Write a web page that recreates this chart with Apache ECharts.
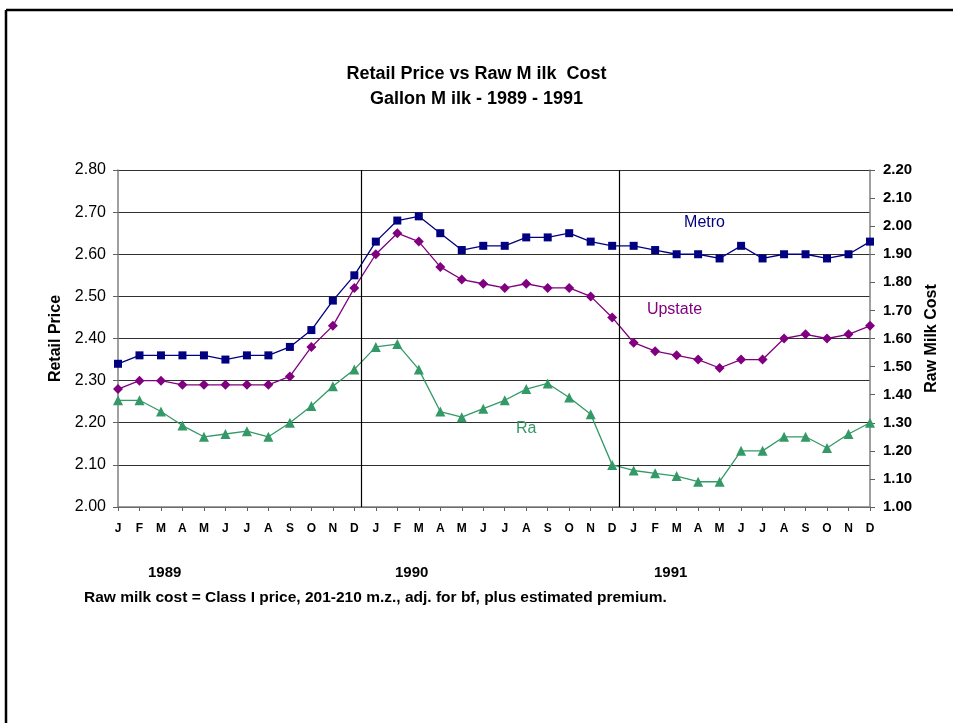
<!DOCTYPE html>
<html>
<head>
<meta charset="utf-8">
<script src="https://cdn.jsdelivr.net/npm/echarts@6/dist/echarts.min.js"></script>
<style>
html,body{margin:0;padding:0;background:#fff;}
#chart{width:953px;height:723px;}
</style>
</head>
<body>
<div id="chart"></div>
<script>
var months = ['J','F','M','A','M','J','J','A','S','O','N','D','J','F','M','A','M','J','J','A','S','O','N','D','J','F','M','A','M','J','J','A','S','O','N','D'];
var metro = [2.34,2.36,2.36,2.36,2.36,2.35,2.36,2.36,2.38,2.42,2.49,2.55,
             2.63,2.68,2.69,2.65,2.61,2.62,2.62,2.64,2.64,2.65,2.63,2.62,
             2.62,2.61,2.60,2.60,2.59,2.62,2.59,2.60,2.60,2.59,2.60,2.63];
var upstate = [2.28,2.30,2.30,2.29,2.29,2.29,2.29,2.29,2.31,2.38,2.43,2.52,
               2.60,2.65,2.63,2.57,2.54,2.53,2.52,2.53,2.52,2.52,2.50,2.45,
               2.39,2.37,2.36,2.35,2.33,2.35,2.35,2.40,2.41,2.40,2.41,2.43];
var rawCost = [1.38,1.38,1.34,1.29,1.25,1.26,1.27,1.25,1.30,1.36,1.43,1.49,
               1.57,1.58,1.49,1.34,1.32,1.35,1.38,1.42,1.44,1.39,1.33,1.15,
               1.13,1.12,1.11,1.09,1.09,1.20,1.20,1.25,1.25,1.21,1.26,1.30];
var leftTicks = {min:2.00, max:2.80, step:0.10};
var rightTicks = {min:1.00, max:2.20, step:0.10};
var yearLabels = ['1989','1990','1991'];
var yearDividers = [11.33, 23.33];

function pairs(arr){ return arr.map(function(v,i){ return [i,v]; }); }

var FONT = 'Liberation Sans, Arial, sans-serif';
var chart = echarts.init(document.getElementById('chart'), null, {renderer:'canvas'});
var option = {
  backgroundColor:'#ffffff',
  animation:false,
  title:{
    text:'Retail Price vs Raw M ilk  Cost\nGallon M ilk - 1989 - 1991',
    left:'center', top:57,
    textStyle:{fontFamily:FONT, fontWeight:'bold', fontSize:18, color:'#000', lineHeight:25}
  },
  grid:{left:118, right:83, top:170, bottom:216},
  xAxis:{
    type:'value', min:0, max:35, interval:1,
    axisLine:{show:true, onZero:false, lineStyle:{color:'#808080', width:1.5}},
    axisTick:{show:true, length:4, lineStyle:{color:'#606060'}},
    splitLine:{show:false},
    axisLabel:{
      formatter:function(v){ return months[Math.round(v)] || ''; },
      fontFamily:FONT, fontWeight:'bold', fontSize:12, color:'#000', margin:16
    }
  },
  yAxis:[
    {
      type:'value', min:leftTicks.min, max:leftTicks.max, interval:leftTicks.step,
      name:'Retail Price', nameLocation:'middle', nameGap:48, nameRotate:90,
      nameTextStyle:{fontFamily:FONT, fontWeight:'bold', fontSize:16, color:'#000'},
      axisLine:{show:true, lineStyle:{color:'#808080', width:1.5}},
      axisTick:{show:true, length:5, lineStyle:{color:'#606060'}},
      splitLine:{show:true, lineStyle:{color:'#303030', width:1}},
      axisLabel:{formatter:function(v){return v.toFixed(2);}, fontFamily:FONT, fontSize:16, color:'#000', margin:12}
    },
    {
      type:'value', min:rightTicks.min, max:rightTicks.max, interval:rightTicks.step,
      name:'Raw Milk Cost', nameLocation:'middle', nameGap:48, nameRotate:90,
      nameTextStyle:{fontFamily:FONT, fontWeight:'bold', fontSize:16, color:'#000'},
      axisLine:{show:true, lineStyle:{color:'#808080', width:1.5}},
      axisTick:{show:true, length:5, lineStyle:{color:'#606060'}},
      splitLine:{show:false},
      axisLabel:{formatter:function(v){return v.toFixed(2);}, fontFamily:FONT, fontWeight:'bold', fontSize:15, color:'#000', margin:13}
    }
  ],
  series:[
    {
      name:'Metro', type:'line', yAxisIndex:0, data:pairs(metro),
      symbol:'rect', symbolSize:8,
      itemStyle:{color:'#000080'}, lineStyle:{color:'#000080', width:1.3},
      markLine:{
        silent:true, symbol:['none','none'], label:{show:false},
        lineStyle:{color:'#000', width:1.2, type:'solid'},
        data: yearDividers.map(function(x){ return {xAxis:x}; })
      },
      markPoint:{
        symbol:'rect', symbolSize:1, itemStyle:{color:'rgba(0,0,0,0)'},
        label:{show:true, position:'inside', formatter:'Metro', color:'#000080', fontFamily:FONT, fontSize:16},
        data:[{coord:[27.3, 2.675]}]
      }
    },
    {
      name:'Upstate', type:'line', yAxisIndex:0, data:pairs(upstate),
      symbol:'diamond', symbolSize:10,
      itemStyle:{color:'#800080'}, lineStyle:{color:'#800080', width:1.3},
      markPoint:{
        symbol:'rect', symbolSize:1, itemStyle:{color:'rgba(0,0,0,0)'},
        label:{show:true, position:'inside', formatter:'Upstate', color:'#800080', fontFamily:FONT, fontSize:16},
        data:[{coord:[25.9, 2.468]}]
      }
    },
    {
      name:'Raw', type:'line', yAxisIndex:1, data:pairs(rawCost),
      symbol:'triangle', symbolSize:10,
      itemStyle:{color:'#339966'}, lineStyle:{color:'#339966', width:1.3},
      markPoint:{
        symbol:'rect', symbolSize:1, itemStyle:{color:'rgba(0,0,0,0)'},
        label:{show:true, position:'inside', formatter:'Ra', color:'#339966', fontFamily:FONT, fontSize:16},
        data:[{coord:[19.0, 1.278]}]
      }
    }
  ],
  graphic:[
    {type:'line', shape:{x1:6, y1:10, x2:953, y2:10}, style:{stroke:'#000', lineWidth:2.5}},
    {type:'line', shape:{x1:6, y1:10, x2:6, y2:723}, style:{stroke:'#000', lineWidth:2.5}},
    {type:'text', left:148, top:565, style:{text:yearLabels[0], font:'bold 15px Liberation Sans, Arial', fill:'#000'}},
    {type:'text', left:395, top:565, style:{text:yearLabels[1], font:'bold 15px Liberation Sans, Arial', fill:'#000'}},
    {type:'text', left:654, top:565, style:{text:yearLabels[2], font:'bold 15px Liberation Sans, Arial', fill:'#000'}},
    {type:'text', left:84, top:590, style:{text:'Raw milk cost = Class I price, 201-210 m.z., adj. for bf, plus estimated premium.', font:'bold 15.5px Liberation Sans, Arial', fill:'#000'}}
  ]
};
chart.setOption(option);
</script>
</body>
</html>
